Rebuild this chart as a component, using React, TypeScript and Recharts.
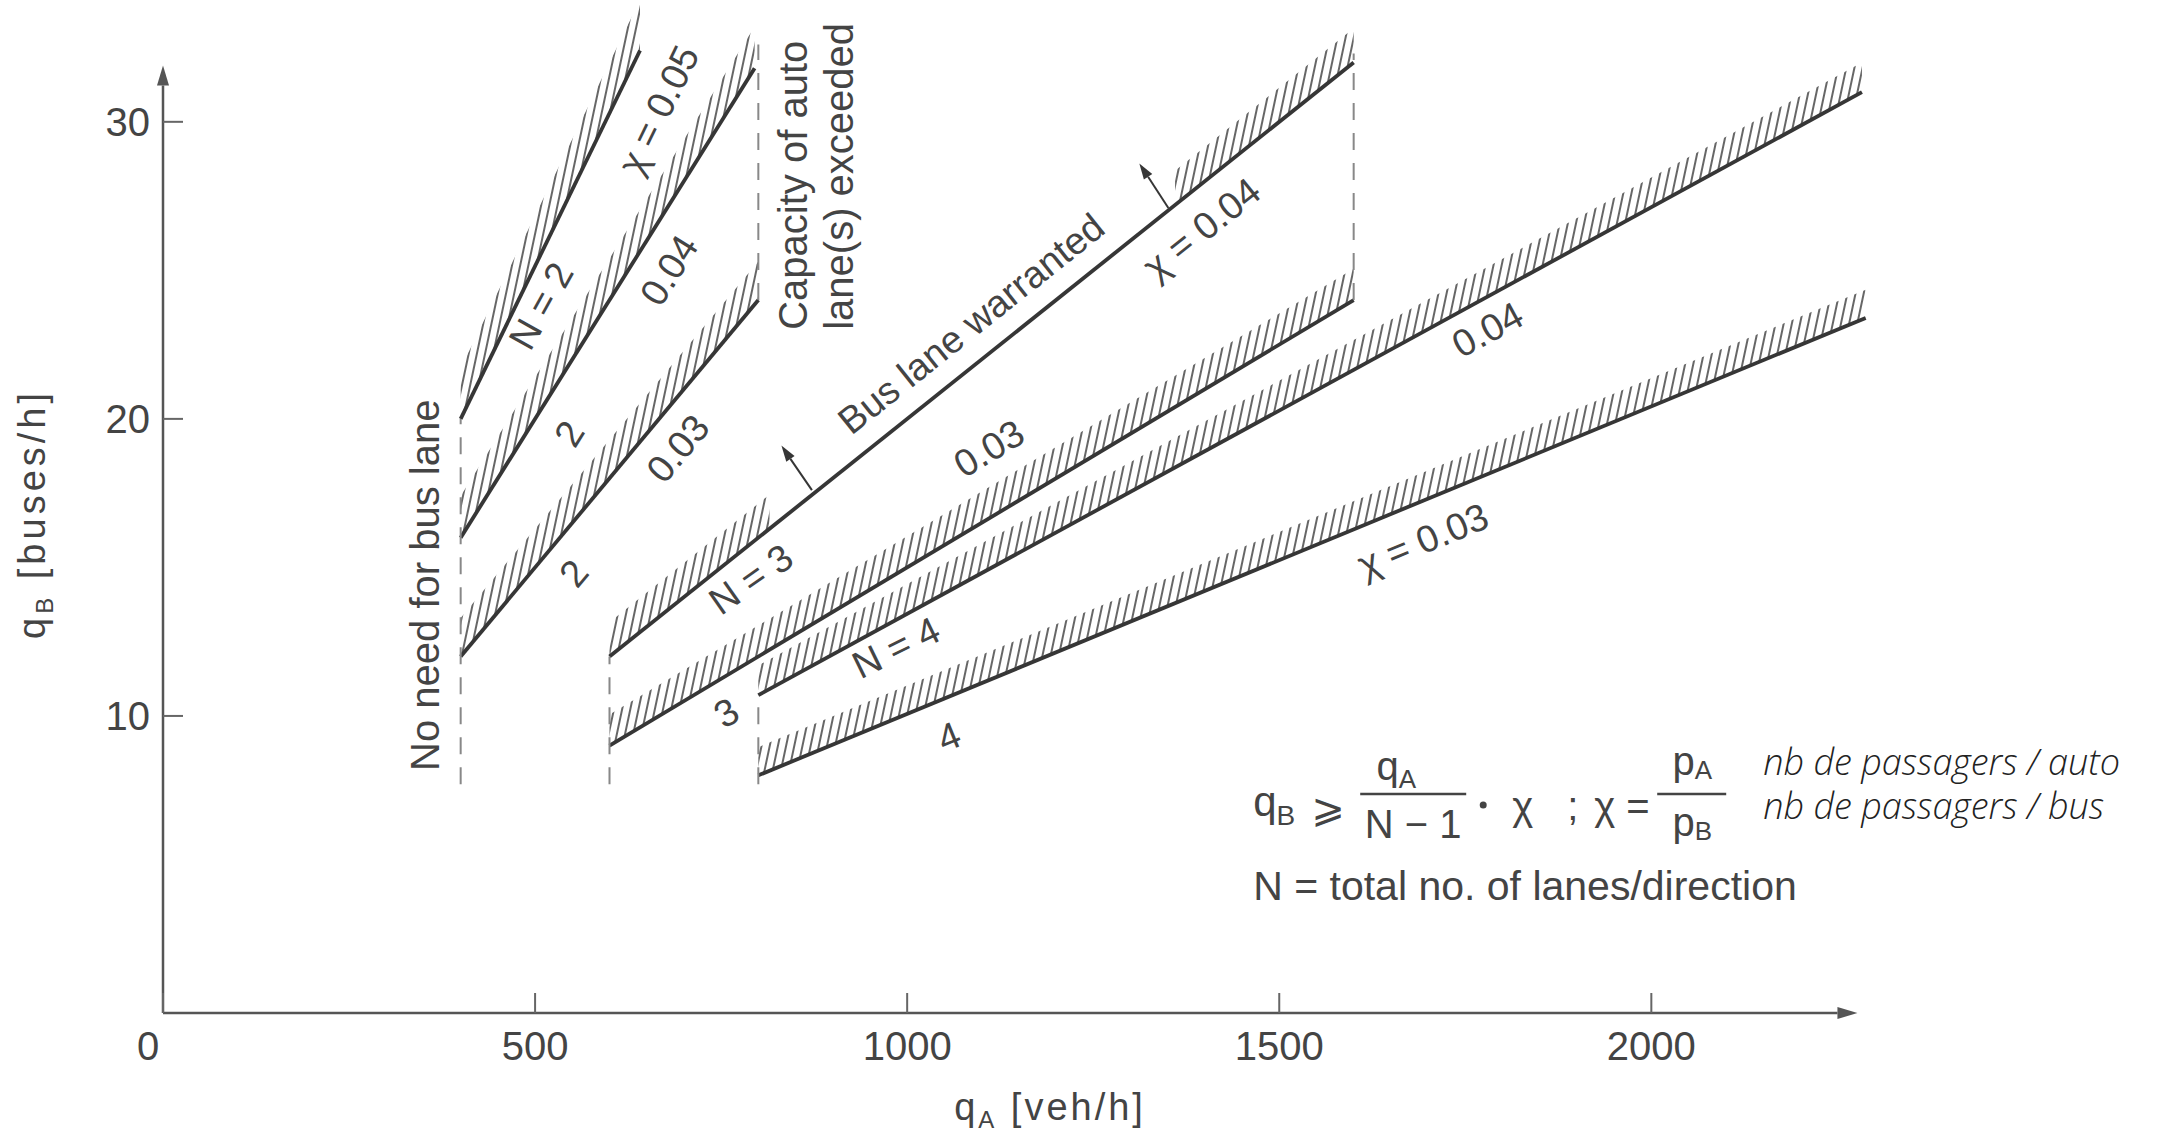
import React from "react";
import {
  ComposedChart,
  Line,
  Area,
  XAxis,
  YAxis,
  ReferenceLine,
  ReferenceDot,
} from "recharts";

const FONT = '"Liberation Sans", Arial, sans-serif';
const INK = "#444";
const LINE = "#363636";

const xTicks = [0, 500, 1000, 1500, 2000];
const yTicks = [10, 20, 30];

// boundary lines q_B = q_A * chi / (N - 1), end points
const n2chi05 = [
  { x: 400, y: 20 },
  { x: 641, y: 32.4 },
];
const n2chi04 = [
  { x: 400, y: 16 },
  { x: 795, y: 31.8 },
];
const n2chi03 = [
  { x: 400, y: 12 },
  { x: 800, y: 24 },
];
const n3chi04 = [
  { x: 600, y: 12 },
  { x: 1600, y: 32 },
];
const n3chi03 = [
  { x: 600, y: 9 },
  { x: 1600, y: 24 },
];
const n4chi04 = [
  { x: 800, y: 10.7 },
  { x: 2283, y: 31 },
];
const n4chi03 = [
  { x: 800, y: 8 },
  { x: 2288, y: 23.4 },
];

// the N = 3, chi = 0.04 line is only hatched near its two ends
const n3chi04HatchStart = [
  { x: 600, y: 12 },
  { x: 815, y: 16.3 },
];
const n3chi04HatchEnd = [
  { x: 1360, y: 27.2 },
  { x: 1600, y: 32 },
];

const boundaries = [n2chi05, n2chi04, n2chi03, n3chi04, n3chi03, n4chi04, n4chi03];
const hatched = [
  n2chi05,
  n2chi04,
  n2chi03,
  n3chi04HatchStart,
  n3chi04HatchEnd,
  n3chi03,
  n4chi04,
  n4chi03,
];
// vertical depth of each hatch band (q_B units), steeper lines need more
const hatchDepth = [1.7, 1.4, 1.3, 1.15, 1.15, 1.05, 1.0, 0.95];

// dashed limits (q_A, from q_B, to q_B)
const limits = [
  { x: 400, from: 7.7, to: 20 },
  { x: 600, from: 7.7, to: 12 },
  { x: 800, from: 7.7, to: 10.7 },
  { x: 800, from: 24, to: 32.6 },
  { x: 1600, from: 24, to: 32.3 },
];

// "bus lane warranted" arrows: base on the line, tip
const warrantArrows = [
  { x1: 872, y1: 17.6, x2: 831, y2: 19.1 },
  { x1: 1351, y1: 27.1, x2: 1312, y2: 28.6 },
];

const lineNotes = [
  { text: "N = 2", x: 508, y: 23.8, angle: 61 },
  { text: "χ = 0.05", x: 666, y: 30.4, angle: 64 },
  { text: "0.04", x: 680, y: 25.0, angle: 58 },
  { text: "2", x: 546, y: 19.5, angle: 58 },
  { text: "0.03", x: 692, y: 19.0, angle: 50 },
  { text: "2", x: 552, y: 14.8, angle: 50 },
  { text: "Bus lane warranted", x: 1086, y: 23.2, angle: 38.6 },
  { text: "χ = 0.04", x: 1396, y: 26.4, angle: 38.6 },
  { text: "0.03", x: 1110, y: 19.0, angle: 31 },
  { text: "N = 3", x: 790, y: 14.6, angle: 35 },
  { text: "3", x: 757, y: 10.1, angle: 31 },
  { text: "0.04", x: 1780, y: 23.0, angle: 28.6 },
  { text: "N = 4", x: 985, y: 12.3, angle: 26 },
  { text: "χ = 0.03", x: 1693, y: 15.9, angle: 22.4 },
  { text: "4", x: 1056, y: 9.3, angle: 22 },
];

function ArrowShape(props: any) {
  const { x1, y1, x2, y2, stroke, strokeWidth } = props;
  const head = props.head ?? 18;
  const wide = props.wide ?? 6;
  const a = Math.atan2(y2 - y1, x2 - x1);
  const bx = x2 - head * Math.cos(a);
  const by = y2 - head * Math.sin(a);
  const px = -Math.sin(a) * wide;
  const py = Math.cos(a) * wide;
  return (
    <g>
      <line x1={x1} y1={y1} x2={bx} y2={by} stroke={stroke} strokeWidth={strokeWidth} />
      <polygon
        points={`${x2},${y2} ${bx + px},${by + py} ${bx - px},${by - py}`}
        fill={stroke}
      />
    </g>
  );
}

function Note({ cx, cy, text, angle = 0, size = 38, anchor = "middle" }: any) {
  return (
    <text
      x={cx}
      y={cy}
      transform={`rotate(${-angle} ${cx} ${cy})`}
      textAnchor={anchor}
      dominantBaseline="central"
      fontFamily={FONT}
      fontSize={size}
      fill={INK}
    >
      {text}
    </text>
  );
}

function XTick({ x, y, payload }: any) {
  return (
    <text
      x={x + (payload.value === 0 ? -15 : 0)}
      y={y}
      dy="0.71em"
      textAnchor="middle"
      fontFamily={FONT}
      fontSize={40}
      fill={INK}
    >
      {payload.value}
    </text>
  );
}

function YTick({ x, y, payload }: any) {
  return (
    <text
      x={x}
      y={y}
      dy="0.36em"
      textAnchor="end"
      fontFamily={FONT}
      fontSize={40}
      fill={INK}
    >
      {payload.value}
    </text>
  );
}

function XTitle({ cx, cy }: any) {
  return (
    <text
      x={cx}
      y={cy}
      textAnchor="middle"
      fontFamily={FONT}
      fontSize={38}
      letterSpacing={3}
      fill={INK}
    >
      q
      <tspan fontSize={24} dy={8}>
        A
      </tspan>
      <tspan dy={-8}>{"  [veh/h]"}</tspan>
    </text>
  );
}

function YTitle({ cx, cy }: any) {
  return (
    <text
      x={cx}
      y={cy}
      transform={`rotate(-90 ${cx} ${cy})`}
      textAnchor="middle"
      fontFamily={FONT}
      fontSize={38}
      letterSpacing={4}
      fill={INK}
    >
      q
      <tspan fontSize={24} dy={8}>
        B
      </tspan>
      <tspan dy={-8}>{"  [buses/h]"}</tspan>
    </text>
  );
}

function Formula({ cx, cy }: any) {
  const t = { fontFamily: FONT, fill: INK };
  const note = {
    fontFamily: '"Open Sans", "Lato", sans-serif',
    fontStyle: "italic" as const,
    fontWeight: 300,
    fontSize: 36,
    fill: "#222",
  };
  return (
    <g transform={`translate(${cx} ${cy})`}>
      <text x={0} y={10} fontSize={42} {...t}>
        q
        <tspan fontSize={28} dy={9}>
          B
        </tspan>
      </text>
      <text x={75} y={16} fontSize={40} textAnchor="middle" fontFamily="DejaVu Sans" fill={INK}>
        ⩾
      </text>
      <text x={143} y={-26} fontSize={40} textAnchor="middle" {...t}>
        q
        <tspan fontSize={26} dy={8}>
          A
        </tspan>
      </text>
      <line x1={107} x2={213} y1={-12} y2={-12} stroke={INK} strokeWidth={2.5} />
      <text x={160} y={32} fontSize={40} textAnchor="middle" {...t}>
        N − 1
      </text>
      <circle cx={230} cy={-1} r={3.5} fill={INK} />
      <text x={259} y={14} fontSize={40} {...t}>
        χ
      </text>
      <text x={314} y={14} fontSize={40} {...t}>
        ;
      </text>
      <text x={341} y={14} fontSize={40} {...t}>
        χ =
      </text>
      <line x1={404} x2={473} y1={-12} y2={-12} stroke={INK} strokeWidth={2.5} />
      <text x={439} y={-31} fontSize={40} textAnchor="middle" {...t}>
        p
        <tspan fontSize={26} dy={4}>
          A
        </tspan>
      </text>
      <text x={439} y={30} fontSize={40} textAnchor="middle" {...t}>
        p
        <tspan fontSize={26} dy={4}>
          B
        </tspan>
      </text>
      <text x={0} y={94} fontSize={41} {...t}>
        N = total no. of lanes/direction
      </text>
      <text x={510} y={-31} {...note}>
        nb de passagers / auto
      </text>
      <text x={510} y={13} {...note}>
        nb de passagers / bus
      </text>
    </g>
  );
}

export default function App() {
  return (
    <div
      style={{
        position: "fixed",
        top: 0,
        left: 0,
        width: 2172,
        height: 1138,
        background: "#fff",
      }}
    >
      <ComposedChart
        width={2172}
        height={1138}
        margin={{ top: 3, right: 223, left: 63, bottom: 65 }}
      >
        <defs>
          <pattern
            id="hatch"
            patternUnits="userSpaceOnUse"
            width={8}
            height={8}
            patternTransform="rotate(12)"
          >
            <line x1={4} y1={0} x2={4} y2={8} stroke="#555" strokeWidth={1.8} />
          </pattern>
        </defs>

        <XAxis
          type="number"
          dataKey="x"
          domain={[0, 2400]}
          ticks={xTicks}
          interval={0}
          allowDataOverflow
          height={60}
          axisLine={false}
          tickSize={-20}
          tickMargin={39}
          tickLine={{ stroke: "#666", strokeWidth: 2 }}
          tick={(p: any) => <XTick {...p} />}
        />
        <YAxis
          type="number"
          dataKey="y"
          domain={[0, 34]}
          ticks={yTicks}
          interval={0}
          allowDataOverflow
          width={100}
          axisLine={false}
          tickSize={-20}
          tickMargin={33}
          tickLine={{ stroke: "#666", strokeWidth: 2 }}
          tick={(p: any) => <YTick {...p} />}
        />

        {hatched.map((d, i) => (
          <Area
            key={`h${i}`}
            data={d}
            dataKey={(e: any) => [e.y, e.y + hatchDepth[i]]}
            type="linear"
            stroke="none"
            fill="url(#hatch)"
            fillOpacity={1}
            dot={false}
            activeDot={false}
            isAnimationActive={false}
          />
        ))}

        {boundaries.map((d, i) => (
          <Line
            key={`l${i}`}
            data={d}
            dataKey="y"
            type="linear"
            stroke={LINE}
            strokeWidth={3.8}
            dot={false}
            activeDot={false}
            isAnimationActive={false}
          />
        ))}

        {limits.map((d, i) => (
          <ReferenceLine
            key={`d${i}`}
            segment={[
              { x: d.x, y: d.from },
              { x: d.x, y: d.to },
            ]}
            stroke="#888"
            strokeWidth={2}
            strokeDasharray="17 13"
          />
        ))}

        {warrantArrows.map((a, i) => (
          <ReferenceLine
            key={`a${i}`}
            segment={[
              { x: a.x1, y: a.y1 },
              { x: a.x2, y: a.y2 },
            ]}
            stroke={LINE}
            strokeWidth={2}
            shape={(p: any) => <ArrowShape {...p} head={16} wide={5} />}
          />
        ))}

        {/* axes drawn as arrows */}
        <ReferenceLine
          segment={[
            { x: 0, y: 0 },
            { x: 0, y: 31.9 },
          ]}
          stroke="#555"
          strokeWidth={2.5}
          shape={(p: any) => <ArrowShape {...p} head={20} wide={6} />}
        />
        <ReferenceLine
          segment={[
            { x: 0, y: 0 },
            { x: 2277, y: 0 },
          ]}
          stroke="#555"
          strokeWidth={2.5}
          shape={(p: any) => <ArrowShape {...p} head={20} wide={6} />}
        />

        {lineNotes.map((n, i) => (
          <ReferenceDot
            key={`n${i}`}
            x={n.x}
            y={n.y}
            ifOverflow="visible"
            shape={(p: any) => <Note {...p} text={n.text} angle={n.angle} />}
          />
        ))}

        <ReferenceDot
          x={352}
          y={14.4}
          ifOverflow="visible"
          shape={(p: any) => <Note {...p} text="No need for bus lane" angle={90} size={40} />}
        />
        <ReferenceDot
          x={847}
          y={23.0}
          ifOverflow="visible"
          shape={(p: any) => (
            <Note {...p} text="Capacity of auto" angle={90} size={40} anchor="start" />
          )}
        />
        <ReferenceDot
          x={909}
          y={23.0}
          ifOverflow="visible"
          shape={(p: any) => (
            <Note {...p} text="lane(s)  exceeded" angle={90} size={40} anchor="start" />
          )}
        />

        <ReferenceDot x={1465} y={6.97} ifOverflow="visible" shape={(p: any) => <Formula {...p} />} />
        <ReferenceDot x={1192} y={-3.6} ifOverflow="visible" shape={(p: any) => <XTitle {...p} />} />
        <ReferenceDot x={-159} y={16.8} ifOverflow="visible" shape={(p: any) => <YTitle {...p} />} />
      </ComposedChart>
    </div>
  );
}
